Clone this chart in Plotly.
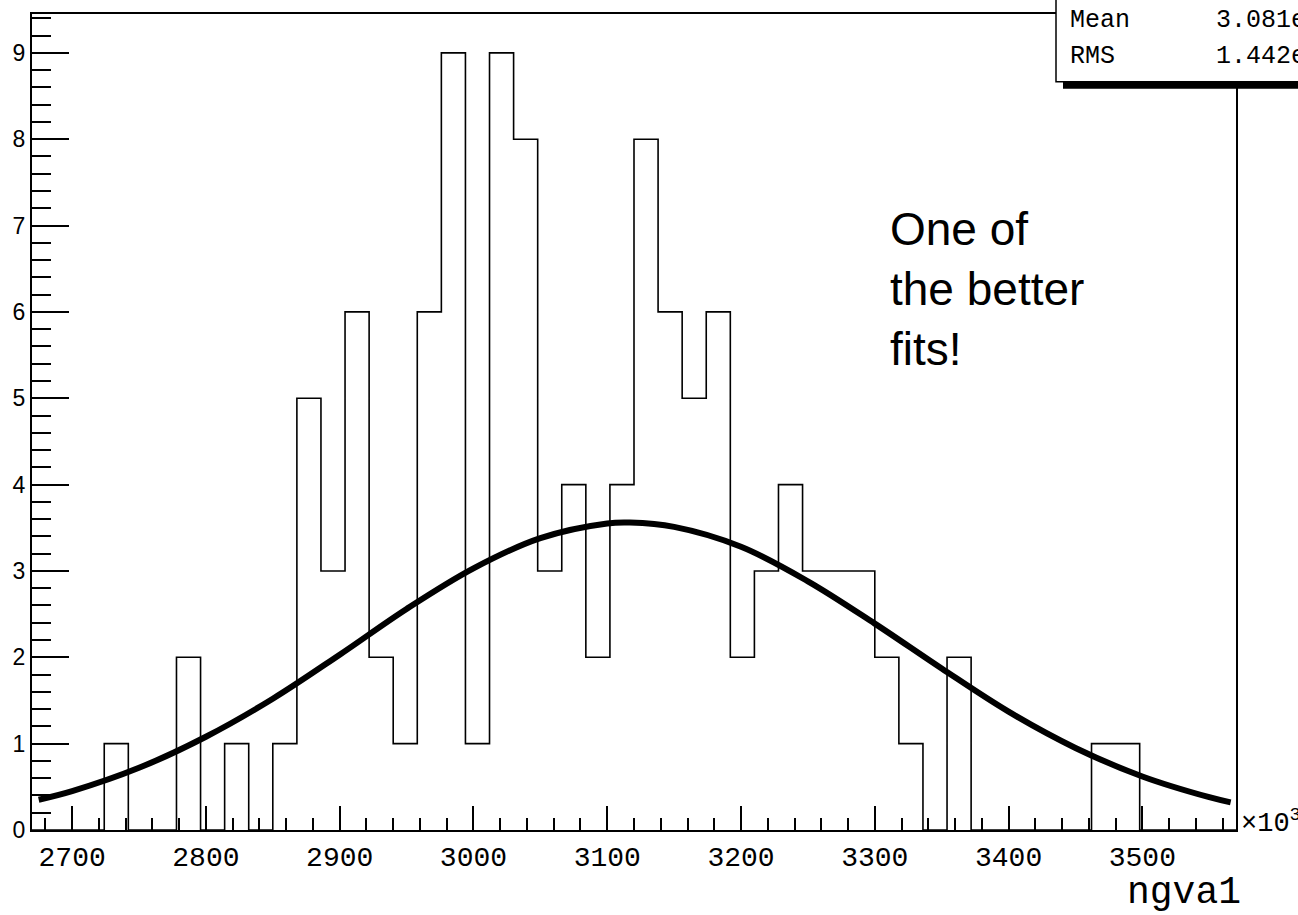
import plotly.graph_objects as go

# Histogram of ngva1: 50 bins of width 18 (x10^3) from 2670 to 3570
bin_low = 2670
bin_width = 18
counts = [0, 0, 0, 1, 0, 0, 2, 0, 1, 0,
          1, 5, 3, 6, 2, 1, 6, 9, 1, 9,
          8, 3, 4, 2, 4, 8, 6, 5, 6, 2,
          3, 4, 3, 3, 3, 2, 1, 0, 2, 0,
          0, 0, 0, 0, 1, 1, 0, 0, 0, 0]

# Fitted curve sampled along the axis
fit_x = [2675, 2700, 2750, 2800, 2850, 2900, 2950, 3000, 3050, 3100, 3117,
         3150, 3200, 3250, 3300, 3350, 3400, 3450, 3500, 3550, 3566]
fit_y = [0.35, 0.45, 0.72, 1.08, 1.52, 2.03, 2.56, 3.03, 3.38, 3.55, 3.56,
         3.51, 3.28, 2.88, 2.39, 1.87, 1.37, 0.95, 0.62, 0.38, 0.32]

x_ticks = [2700, 2800, 2900, 3000, 3100, 3200, 3300, 3400, 3500]
y_ticks = [0, 1, 2, 3, 4, 5, 6, 7, 8, 9]

stats_labels = ["Mean", "RMS"]
stats_values = ["3.081e+06", "1.442e+05"]

edges = [bin_low + i * bin_width for i in range(len(counts) + 1)]
step_y = counts + [counts[-1]]

W, H = 1298, 915
L, R, T, B = 32, 62, 12, 85
PW, PH = W - L - R, H - T - B


def px_x(p):
    return (p - L) / PW


def px_y(p):
    return (H - B - p) / PH


fig = go.Figure()
fig.add_trace(go.Scatter(x=edges, y=step_y, mode="lines",
                         line=dict(color="black", width=1.6, shape="hv"),
                         hoverinfo="skip", showlegend=False))
fig.add_trace(go.Scatter(x=fit_x, y=fit_y, mode="lines",
                         line=dict(color="black", width=6, shape="spline"),
                         hoverinfo="skip", showlegend=False))

mono = "Liberation Mono"
sans = "Liberation Sans"

fig.update_xaxes(range=[edges[0], edges[-1]], tickvals=x_ticks,
                 ticktext=[str(v) for v in x_ticks],
                 ticks="inside", ticklen=24, tickwidth=1.5, tickcolor="black",
                 minor=dict(tick0=2700, dtick=20, ticks="inside", ticklen=12,
                            tickwidth=1.5, tickcolor="black"),
                 showline=True, linewidth=2, linecolor="black", mirror=True,
                 showgrid=False, zeroline=False,
                 tickfont=dict(family=mono, size=28, color="black"))
fig.update_yaxes(range=[0, 9.45], tickvals=y_ticks,
                 ticks="inside", ticklen=37, tickwidth=1.5, tickcolor="black",
                 minor=dict(tick0=0, dtick=0.2, ticks="inside", ticklen=19,
                            tickwidth=1.5, tickcolor="black"),
                 showline=True, linewidth=2, linecolor="black", mirror=True,
                 showgrid=False, zeroline=False,
                 tickfont=dict(family=sans, size=23, color="black"))

# Statistics box in the top-right corner, with its drop shadow
box_l, box_b = 1056, 80
fig.add_shape(type="rect", xref="paper", yref="paper",
              x0=px_x(box_l + 7), x1=px_x(W + 40), y0=px_y(box_b + 7), y1=px_y(box_b),
              fillcolor="black", line=dict(width=0), layer="above")
fig.add_shape(type="rect", xref="paper", yref="paper",
              x0=px_x(box_l), x1=px_x(W + 40), y0=px_y(box_b), y1=px_y(-40),
              fillcolor="white", line=dict(color="black", width=1.5), layer="above")

annotations = []
for i, (lab, val) in enumerate(zip(stats_labels, stats_values)):
    yc = 19 + 36 * i
    annotations.append(dict(text=lab, xref="paper", yref="paper",
                            x=px_x(1068), y=px_y(yc), xanchor="left", yanchor="middle",
                            showarrow=False, font=dict(family=mono, size=25, color="black")))
    annotations.append(dict(text=val, xref="paper", yref="paper",
                            x=px_x(1214), y=px_y(yc), xanchor="left", yanchor="middle",
                            showarrow=False, font=dict(family=mono, size=25, color="black")))

annotations.append(dict(text="×10<sup>3</sup>", xref="paper", yref="paper",
                        x=px_x(1239), y=px_y(821), xanchor="left", yanchor="middle",
                        showarrow=False, font=dict(family=mono, size=27, color="black")))
annotations.append(dict(text="ngva1", xref="paper", yref="paper",
                        x=px_x(1243), y=px_y(893), xanchor="right", yanchor="middle",
                        showarrow=False, font=dict(family=mono, size=38, color="black")))
annotations.append(dict(text="One of<br>the better<br>fits!", xref="paper", yref="paper",
                        x=px_x(888), y=px_y(199), xanchor="left", yanchor="top",
                        align="left", showarrow=False,
                        font=dict(family=sans, size=46, color="black")))

fig.update_layout(width=W, height=H, margin=dict(l=L, r=R, t=T, b=B),
                  paper_bgcolor="white", plot_bgcolor="white",
                  annotations=annotations, showlegend=False)

fig.write_html("out.html")
